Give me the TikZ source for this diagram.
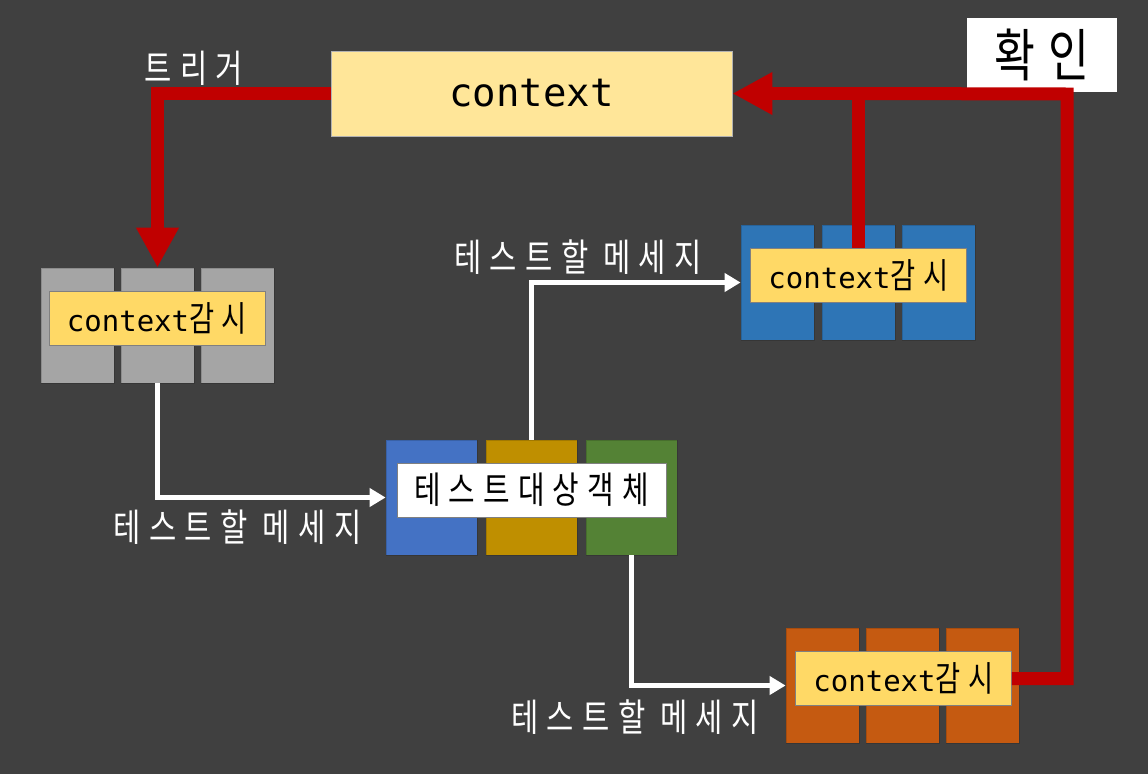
\documentclass[tikz,border=0pt]{standalone}
\usepackage{fontspec}
\setmainfont{Noto Sans CJK KR}
\setmonofont{DejaVu Sans Mono}
\newfontfamily\krw{Noto Sans CJK KR}[FakeStretch=0.78, LetterSpace=22]
\usetikzlibrary{arrows.meta}
\definecolor{bg}{HTML}{404040}
\definecolor{ctxfill}{HTML}{FFE699}
\definecolor{lblfill}{HTML}{FFD966}
\definecolor{redc}{HTML}{C00000}
\definecolor{grayc}{HTML}{A5A5A5}
\definecolor{bluec}{HTML}{2E75B6}
\definecolor{orangec}{HTML}{C55A11}
\definecolor{cblue}{HTML}{4472C4}
\definecolor{cgold}{HTML}{BF8F00}
\definecolor{cgreen}{HTML}{548235}
\newcommand{\ctxwatch}{{\fontsize{29}{32}\selectfont\ttfamily context}{\fontsize{35}{38}\selectfont\krw 감시}}
\tikzset{
  bar/.style={rectangle, inner sep=0pt, minimum width=73pt, minimum height=115pt, draw=black, draw opacity=0.15, line width=0.8pt},
  cbar/.style={rectangle, inner sep=0pt, minimum width=91pt, minimum height=115pt, draw=black, draw opacity=0.15, line width=0.8pt},
  lbl/.style={rectangle, inner sep=0pt, fill=lblfill, draw=gray, line width=0.8pt, minimum width=216pt, minimum height=54pt},
  redline/.style={draw=redc, line width=13pt},
  redarrow/.style={redline, -{Triangle[length=40pt,width=40pt]}},
  whitearrow/.style={draw=white, line width=5pt, -{Triangle[length=16pt,width=18pt]}},
  wtext/.style={text=white, font=\fontsize{38}{40}\selectfont\krw, inner sep=0pt},
}
\begin{document}
\begin{tikzpicture}[x=1pt,y=-1pt]
\fill[bg] (0,0) rectangle (1148,774);
\useasboundingbox (0,0) rectangle (1148,774);

% context box
\node[rectangle, fill=ctxfill, draw=black!30, line width=0.8pt, minimum width=401pt, minimum height=85pt, inner sep=0pt, font=\fontsize{39}{42}\selectfont\ttfamily] (ctx) at (531.5,93.5) {context};

% gray group
\node[bar, fill=grayc] (g1) at (77.5,325.5) {};
\node[bar, fill=grayc] (g2) at (157.5,325.5) {};
\node[bar, fill=grayc] (g3) at (237.5,325.5) {};
\node[lbl] (glbl) at (157,318) {\ctxwatch};

% blue group
\node[bar, fill=bluec] (b1) at (777.5,282.5) {};
\node[bar, fill=bluec] (b2) at (858.5,282.5) {};
\node[bar, fill=bluec] (b3) at (938.5,282.5) {};
\node[lbl] (blbl) at (858.5,275) {\ctxwatch};

% center group
\node[cbar, fill=cblue] (c1) at (431.5,497.5) {};
\node[cbar, fill=cgold] (c2) at (531.5,497.5) {};
\node[cbar, fill=cgreen] (c3) at (631.5,497.5) {};
\node[rectangle, fill=white, draw=gray, line width=0.8pt, minimum width=269pt, minimum height=54pt, inner sep=0pt, font=\fontsize{37}{40}\selectfont\krw] (clbl) at (531.5,490) {테스트대상객체};

% orange group
\node[bar, fill=orangec] (o1) at (822.5,685.5) {};
\node[bar, fill=orangec] (o2) at (902.5,685.5) {};
\node[bar, fill=orangec] (o3) at (982.5,685.5) {};
\node[lbl] (olbl) at (903.5,678.5) {\ctxwatch};

% confirm box
\node[rectangle, fill=white, inner sep=0pt, minimum width=150pt, minimum height=74pt, font=\fontsize{57}{60}\selectfont\krw] (conf) at (1042,55) {확인};

% red connectors
\coordinate (rc) at (1067,94);
\draw[redarrow] (ctx.west) -| (g2.north);
\draw[redline] (olbl.east) -| (rc) -- (blbl.north |- ctx.east);
\draw[redarrow] (blbl.north |- ctx.east) -- (ctx.east);
\draw[redline] (blbl.north) -- (blbl.north |- ctx.east);

% white connectors
\draw[whitearrow] (g2.south) |- (c1.west);
\draw[whitearrow] (c2.north) |- (b1.west);
\draw[whitearrow] (c3.south) |- (o1.west);

% texts
\node[wtext] (trig) at (194,68) {트리거};
\node[wtext] (m1) at (237.5,527) {테스트할 메세지};
\node[wtext] (m2) at (578,257) {테스트할 메세지};
\node[wtext] (m3) at (635,717) {테스트할 메세지};
\end{tikzpicture}
\end{document}
